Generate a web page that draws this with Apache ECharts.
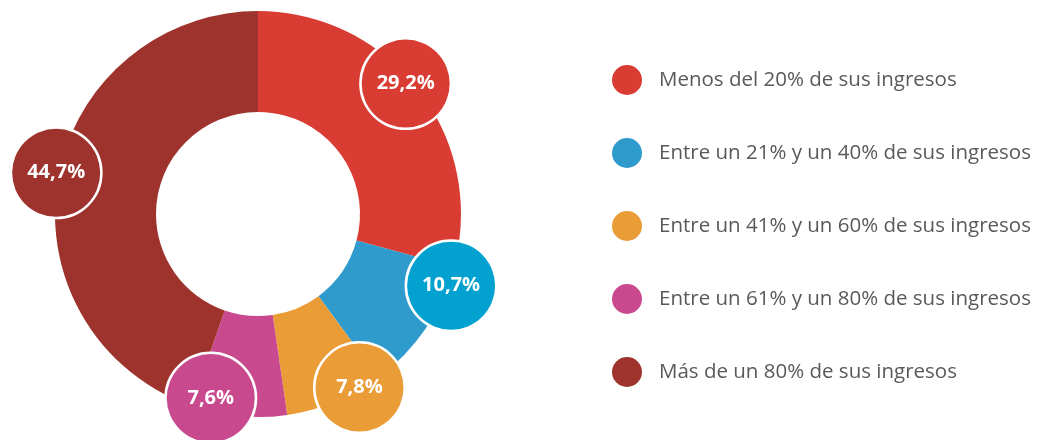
<!DOCTYPE html>
<html>
<head>
<meta charset="utf-8">
<script src="https://cdn.jsdelivr.net/npm/echarts@6/dist/echarts.min.js"></script>
<style>
    html, body { margin: 0; padding: 0; background: #fff; }
    #chart { width: 1042px; height: 440px; }
</style>
</head>
<body>
<div id="chart"></div>
<script>
var categories = [
    'Menos del 20% de sus ingresos',
    'Entre un 21% y un 40% de sus ingresos',
    'Entre un 41% y un 60% de sus ingresos',
    'Entre un 61% y un 80% de sus ingresos',
    'Más de un 80% de sus ingresos'
];
var values = [29.2, 10.7, 7.8, 7.6, 44.7];

var sliceColors = ['#d83c33', '#2f9bcc', '#ea9c37', '#c8498e', '#9e322c'];
var labelColors = ['#d83c33', '#02a1d0', '#ea9c37', '#c8498e', '#9e322c'];
// label bubble nudges: [degrees, radius]
var labelNudge = [[-4, 197], [-14, 206], [-8, 201], [9, 190], [2, 206]];

var cx = 258, cy = 214;

var myChart = echarts.init(document.getElementById('chart'));

var total = values.reduce(function (a, b) { return a + b; }, 0);
var midAngles = [];
var acc = 0;
values.forEach(function (v) {
    midAngles.push((acc + v / 2) / total * 360);
    acc += v;
});

var option = {
    animation: false,
    color: sliceColors,
    legend: {
        orient: 'vertical',
        left: 607,
        top: 60,
        itemWidth: 30,
        itemHeight: 30,
        itemGap: 43,
        icon: 'circle',
        textStyle: {
            fontFamily: 'Open Sans',
            fontSize: 20.5,
            color: '#595959',
            padding: [0, 0, 0, 12]
        },
        data: categories
    },
    series: [{
        type: 'pie',
        center: [cx, cy],
        radius: [102, 203],
        startAngle: 90,
        clockwise: true,
        avoidLabelOverlap: false,
        itemStyle: { borderWidth: 0 },
        emphasis: { disabled: true },
        label: {
            show: true,
            position: 'inside',
            formatter: function (p) {
                return p.value.toFixed(1).replace('.', ',') + '%';
            },
            fontFamily: 'Open Sans',
            fontWeight: 'bold',
            fontSize: 20,
            color: '#fff',
            width: 88,
            height: 88,
            lineHeight: 88,
            align: 'center',
            borderRadius: 46,
            borderColor: '#fff',
            borderWidth: 2.5
        },
        labelLayout: function (params) {
            var i = params.dataIndex;
            var a = (midAngles[i] + labelNudge[i][0]) * Math.PI / 180;
            var r = labelNudge[i][1];
            return {
                x: cx + r * Math.sin(a),
                y: cy - r * Math.cos(a),
                align: 'center',
                verticalAlign: 'middle'
            };
        },
        data: categories.map(function (name, i) {
            return {
                name: name,
                value: values[i],
                label: { backgroundColor: labelColors[i] }
            };
        })
    }]
};

myChart.setOption(option);

window.addEventListener('resize', function () {
    myChart.resize();
});
</script>
</body>
</html>
